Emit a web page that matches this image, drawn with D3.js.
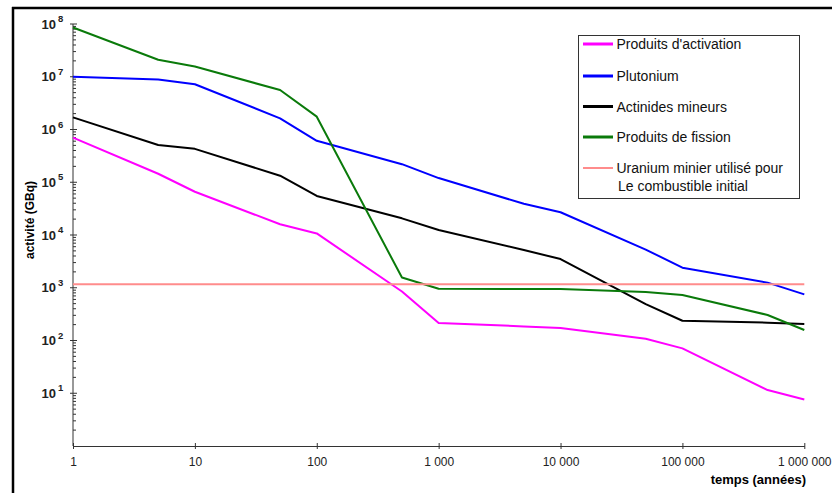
<!DOCTYPE html>
<html>
<head>
<meta charset="utf-8">
<script src="https://cdn.jsdelivr.net/npm/d3@7"></script>
<style>
  body { margin: 0; background: #fff; }
  svg { display: block; font-family: Arial, "Liberation Sans", sans-serif; }
</style>
</head>
<body>
<svg id="chart"></svg>
<script>
// temps (années) et activité (GBq)
var times      = [1, 5, 10, 50, 100, 500, 1000, 5000, 10000, 50000, 100000, 500000, 1000000];
var activation = [7.0e5, 1.45e5, 6.6e4, 1.6e4, 1.07e4, 850, 215, 185, 172, 108, 71, 11.5, 7.6];
var plutonium  = [1.0e7, 8.9e6, 7.2e6, 1.63e6, 6.1e5, 2.2e5, 1.2e5, 3.9e4, 2.7e4, 5.3e3, 2.4e3, 1.25e3, 750];
var actinides  = [1.7e6, 5.1e5, 4.3e5, 1.33e5, 5.5e4, 2.07e4, 1.24e4, 5.2e3, 3.5e3, 490, 237, 218, 205];
var fission    = [8.6e7, 2.1e7, 1.56e7, 5.6e6, 1.75e6, 1.56e3, 960, 950, 947, 830, 730, 305, 158];
var uraniumTimes = [1, 1000000];
var uranium      = [1160, 1160];

var seriesNames = ["Produits d'activation", "Plutonium", "Actinides mineurs", "Produits de fission",
                   ["Uranium minier utilisé pour", "Le combustible initial"]];
var xTicks = [1, 10, 100, 1000, 10000, 100000, 1000000];
var xTickLabels = ["1", "10", "100", "1 000", "10 000", "100 000", "1 000 000"];
var yExponents = [1, 2, 3, 4, 5, 6, 7, 8];

var width = 832, height = 493;
var svg = d3.select("#chart").attr("width", width).attr("height", height);

var x = d3.scaleLog().domain([1, 1e6]).range([73, 804.3]);
var y = d3.scaleLog().domain([1, 1e8]).range([446, 24]);

// cadre
svg.append("line").attr("x1", 13).attr("x2", 13).attr("y1", 7).attr("y2", height)
  .attr("stroke", "#000").attr("stroke-width", 2.5);
svg.append("line").attr("x1", 12).attr("x2", width).attr("y1", 8).attr("y2", 8)
  .attr("stroke", "#000").attr("stroke-width", 2.5);

// axe x
var xAxis = svg.append("g").attr("transform", "translate(0,446)")
  .call(d3.axisBottom(x).tickValues(xTicks).tickSize(3).tickSizeOuter(0)
    .tickFormat(function(d, i) { return xTickLabels[i]; }));
xAxis.select(".domain").attr("stroke", "#333");
xAxis.selectAll(".tick line").attr("stroke", "#333").attr("y1", -3).attr("y2", 3);
xAxis.selectAll(".tick text").attr("font-size", 12).attr("fill", "#222").attr("dy", "1.2em")
  .attr("font-family", "Arial, 'Liberation Sans', sans-serif");

// axe y avec graduations mineures
var minor = [];
[0, 1, 2, 3, 4, 5, 6, 7].forEach(function(e) {
  for (var k = 2; k <= 9; k++) minor.push(k * Math.pow(10, e));
});
var yAxis = svg.append("g").attr("transform", "translate(73,0)");
yAxis.append("line").attr("x1", 0).attr("x2", 0).attr("y1", y(1e8)).attr("y2", y(1))
  .attr("stroke", "#333");
yAxis.selectAll(".minor").data(minor).enter().append("line")
  .attr("x1", 0).attr("x2", 3).attr("y1", function(d) { return y(d); }).attr("y2", function(d) { return y(d); })
  .attr("stroke", "#333");
yAxis.selectAll(".major").data(yExponents).enter().append("line")
  .attr("x1", -3).attr("x2", 4)
  .attr("y1", function(e) { return y(Math.pow(10, e)); }).attr("y2", function(e) { return y(Math.pow(10, e)); })
  .attr("stroke", "#333");
yAxis.selectAll(".lab").data(yExponents).enter().append("text")
  .attr("x", -17).attr("y", function(e) { return y(Math.pow(10, e)) + 4.5; })
  .attr("text-anchor", "end").attr("font-size", 13).attr("font-weight", "bold").attr("fill", "#222")
  .text("10");
yAxis.selectAll(".exp").data(yExponents).enter().append("text")
  .attr("x", -15).attr("y", function(e) { return y(Math.pow(10, e)) - 2; })
  .attr("font-size", 9.5).attr("font-weight", "bold").attr("fill", "#222")
  .text(function(e) { return e; });

// titres des axes
svg.append("text").attr("transform", "translate(34,220) rotate(-90)")
  .attr("text-anchor", "middle").attr("font-size", 12).attr("font-weight", "bold")
  .text("activité (GBq)");
svg.append("text").attr("x", 806).attr("y", 484).attr("text-anchor", "end")
  .attr("font-size", 13).attr("font-weight", "bold").text("temps (années)");

// courbes
var line = d3.line().x(function(d) { return x(d[0]); }).y(function(d) { return y(d[1]); });
var series = [
  { vals: activation, t: times, color: "#ff00ff", w: 2 },
  { vals: plutonium,  t: times, color: "#0000ff", w: 2 },
  { vals: actinides,  t: times, color: "#000000", w: 2 },
  { vals: fission,    t: times, color: "#0a7a0a", w: 2 },
  { vals: uranium,    t: uraniumTimes, color: "#ff8c8c", w: 2 }
];
series.forEach(function(s) {
  svg.append("path")
    .datum(s.t.map(function(t, i) { return [t, s.vals[i]]; }))
    .attr("d", line).attr("fill", "none")
    .attr("stroke", s.color).attr("stroke-width", s.w).attr("stroke-linejoin", "round");
});

// légende
var legend = svg.append("g");
legend.append("rect").attr("x", 578.5).attr("y", 35.5).attr("width", 221).attr("height", 163)
  .attr("fill", "#fff").attr("stroke", "#333").attr("stroke-width", 1);
var rowsY = [44, 76, 106.5, 137, 168];
series.forEach(function(s, i) {
  legend.append("line").attr("x1", 583).attr("x2", 613).attr("y1", rowsY[i]).attr("y2", rowsY[i])
    .attr("stroke", s.color).attr("stroke-width", i === 4 ? 2 : 3);
  var t = legend.append("text").attr("x", 616.5).attr("y", rowsY[i] + 5)
    .attr("font-size", 14).attr("fill", "#111");
  var name = seriesNames[i];
  if (Array.isArray(name)) {
    t.append("tspan").attr("x", 616.5).text(name[0]);
    t.append("tspan").attr("x", 618).attr("dy", 18).text(name[1]);
  } else {
    t.text(name);
  }
});
</script>
</body>
</html>
